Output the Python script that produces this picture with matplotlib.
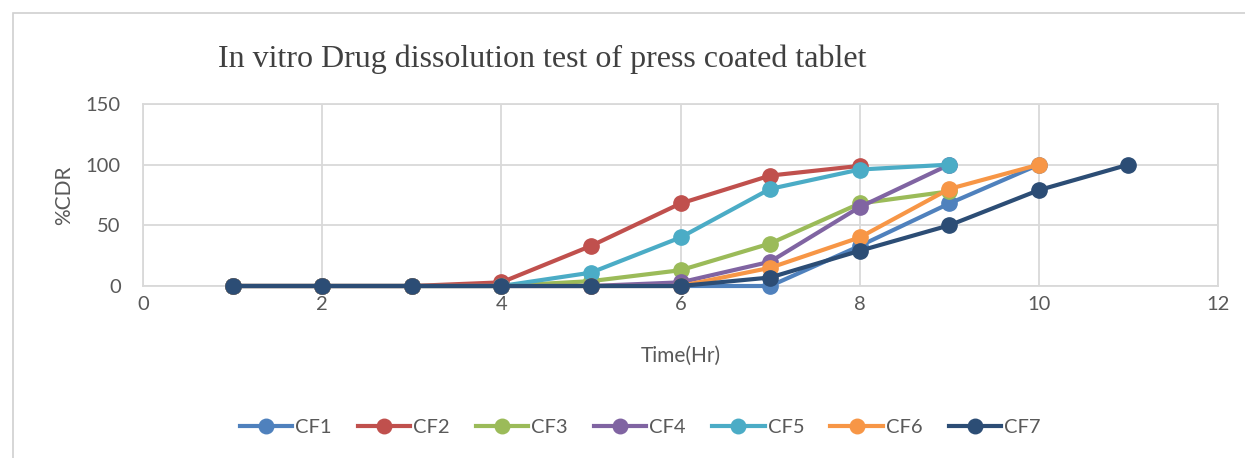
import matplotlib
matplotlib.use("Agg")
import matplotlib.pyplot as plt
from matplotlib.patches import Rectangle

time_hr = [1, 2, 3, 4, 5, 6, 7, 8, 9, 10, 11]
series_names = ["CF1", "CF2", "CF3", "CF4", "CF5", "CF6", "CF7"]
cf1 = [0, 0, 0, 0, 0, 0, 0, 33, 68, 100]
cf2 = [0, 0, 0, 3, 33, 68, 91, 99]
cf3 = [0, 0, 0, 0, 4, 13, 35, 68, 78]
cf4 = [0, 0, 0, 0, 0, 3, 20, 65, 100]
cf5 = [0, 0, 0, 0, 11, 40, 80, 96, 100]
cf6 = [0, 0, 0, 0, 0, 0, 15, 40, 80, 100]
cf7 = [0, 0, 0, 0, 0, 0, 7, 29, 50, 79, 100]
colors = ["#4F81BD", "#C0504D", "#9BBB59", "#8064A2", "#4BACC6", "#F79646", "#2C4D75"]
x_ticks = [0, 2, 4, 6, 8, 10, 12]
y_ticks = [0, 50, 100, 150]

fig = plt.figure(figsize=(12.45, 4.58), dpi=100)
fig.patches.append(Rectangle((13/1245, -0.1), 1.2, 1 - 13/458 + 0.1, transform=fig.transFigure,
                             fill=False, edgecolor="#D0D0D0", linewidth=1.2))
ax = fig.add_axes([143/1245, 1 - 286/458, (1218-143)/1245, (286-104)/458])

data = [cf1, cf2, cf3, cf4, cf5, cf6, cf7]
for name, vals, c in zip(series_names, data, colors):
    ax.plot(time_hr[:len(vals)], vals, color=c, linewidth=3.0, marker="o",
            markersize=11, label=name, clip_on=False, zorder=3)

ax.set_xlim(0, 12)
ax.set_ylim(0, 150)
ax.set_xticks(x_ticks)
ax.set_yticks(y_ticks)
ax.grid(True, color="#D9D9D9", linewidth=1.3)
ax.set_axisbelow(True)
for s in ax.spines.values():
    s.set_color("#D9D9D9")
    s.set_linewidth(1.3)
ax.tick_params(length=0, labelsize=14.5, labelcolor="#595959")
ax.tick_params(axis="y", pad=16)
ax.tick_params(axis="x", pad=7)
for lab in ax.get_xticklabels() + ax.get_yticklabels():
    lab.set_fontfamily("Lato")

ax.set_xlabel("Time(Hr)", fontsize=15, color="#595959", family="Lato", labelpad=24)
ax.set_ylabel("%CDR", fontsize=15, color="#595959", family="Lato", labelpad=8)

fig.text(542/1245, 1 - 59/458, "In vitro Drug dissolution test of press coated tablet",
         ha="center", va="center", fontsize=23, family="Liberation Serif", color="#404040")

leg = fig.legend(loc="center", bbox_to_anchor=(640/1245, 1 - 427/458), ncol=7, frameon=False,
                 prop={"family": "Lato", "size": 14.5}, handlelength=2.6, columnspacing=1.3,
                 handletextpad=0.15, markerscale=0.95)
for t in leg.get_texts():
    t.set_color("#595959")

fig.savefig("out.png", dpi=100)
